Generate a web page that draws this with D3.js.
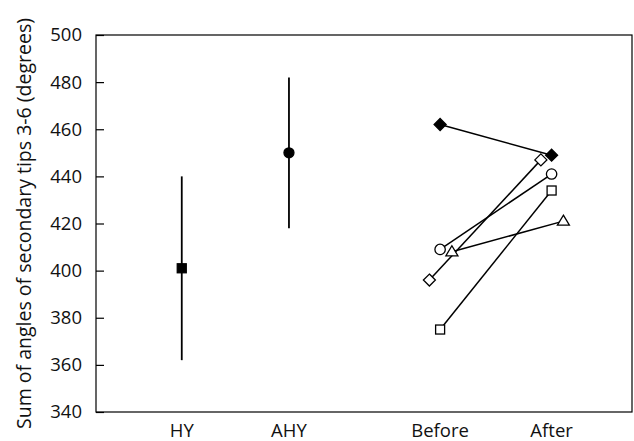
<!DOCTYPE html>
<html><head><meta charset="utf-8">
<script src="https://cdn.jsdelivr.net/npm/d3@7"></script>
<style>body{margin:0;background:#fff}svg{display:block}text{font-family:"Open Sans",sans-serif;fill:#111}</style>
</head><body><svg id="c" width="634" height="441"></svg>
<script>
// categories and their positions along the x axis
const categories = ["HY", "AHY", "Before", "After"];
const categoryPos = [1, 2, 3.41, 4.45];
// age groups: mean with range
const groupNames = ["HY", "AHY"];
const groupMean = [401, 450];
const groupLow = [362, 418];
const groupHigh = [440, 482];
const groupSymbol = ["filledSquare", "filledCircle"];
// individual birds: before and after
const birdSymbol = ["filledDiamond", "openDiamond", "openCircle", "openTriangle", "openSquare"];
const birdBefore = [462, 396, 409, 408, 375];
const birdAfter = [449, 447, 441, 421, 434];
const birdOffset = [0, -0.1, 0, 0.11, 0];
const yTicks = [340, 360, 380, 400, 420, 440, 460, 480, 500];
const yLabel = "Sum of angles of secondary tips 3-6 (degrees)";

const svg = d3.select("#c");
const m = {l: 96, r: 632, t: 35, b: 412};
const x = d3.scaleLinear().domain([0.2, 5.2]).range([m.l, m.r]);
const y = d3.scaleLinear().domain([340, 500]).range([m.b, m.t]);
const fs = "18.5px";

// frame
svg.append("rect").attr("x", m.l).attr("y", m.t).attr("width", m.r - m.l).attr("height", m.b - m.t)
  .attr("fill", "none").attr("stroke", "#000").attr("stroke-width", 1.2);

// y axis ticks inward
const ya = svg.append("g").attr("transform", `translate(${m.l},0)`)
  .call(d3.axisLeft(y).tickValues(yTicks).tickSize(-8).tickPadding(14));
ya.select(".domain").remove();
ya.selectAll("line").attr("stroke", "#000").attr("stroke-width", 1.2);
ya.selectAll("text").style("font-size", fs).attr("fill", "#111").attr("font-family", null);

// x labels
svg.selectAll(".xl").data(categories).join("text")
  .attr("x", (d, i) => x(categoryPos[i])).attr("y", 437)
  .attr("text-anchor", "middle").style("font-size", fs).text(d => d);

// y label
svg.append("text").attr("transform", `translate(31,${(m.t + m.b) / 2}) rotate(-90)`)
  .attr("text-anchor", "middle").style("font-size", "19.5px").text(yLabel);

function symbol(g, type, cx, cy) {
  const filled = type.startsWith("filled");
  const fill = filled ? "#000" : "#fff";
  let s;
  if (type.endsWith("Square")) s = g.append("rect").attr("x", cx - 4.5).attr("y", cy - 4.5).attr("width", 9).attr("height", 9);
  else if (type.endsWith("Circle")) s = g.append("circle").attr("cx", cx).attr("cy", cy).attr("r", filled ? 5 : 5.2);
  else if (type.endsWith("Diamond")) s = g.append("path").attr("d", `M${cx},${cy-6}L${cx+6},${cy}L${cx},${cy+6}L${cx-6},${cy}Z`);
  else s = g.append("path").attr("d", `M${cx},${cy-6}L${cx+6},${cy+4}L${cx-6},${cy+4}Z`);
  s.attr("fill", fill).attr("stroke", "#000").attr("stroke-width", 1.3);
}

// error bars
const eg = svg.append("g");
groupNames.forEach((n, i) => {
  const cx = x(categoryPos[categories.indexOf(n)]);
  eg.append("line").attr("x1", cx).attr("x2", cx).attr("y1", y(groupLow[i])).attr("y2", y(groupHigh[i]))
    .attr("stroke", "#000").attr("stroke-width", 1.8);
  symbol(eg, groupSymbol[i], cx, y(groupMean[i]));
});

// paired lines
const pg = svg.append("g");
const bx = categoryPos[2], ax = categoryPos[3];
birdSymbol.forEach((s, i) => {
  pg.append("line").attr("x1", x(bx + birdOffset[i])).attr("y1", y(birdBefore[i]))
    .attr("x2", x(ax + birdOffset[i])).attr("y2", y(birdAfter[i]))
    .attr("stroke", "#000").attr("stroke-width", 1.5);
});
birdSymbol.forEach((s, i) => {
  symbol(pg, s, x(bx + birdOffset[i]), y(birdBefore[i]));
  symbol(pg, s, x(ax + birdOffset[i]), y(birdAfter[i]));
});
</script></body></html>
